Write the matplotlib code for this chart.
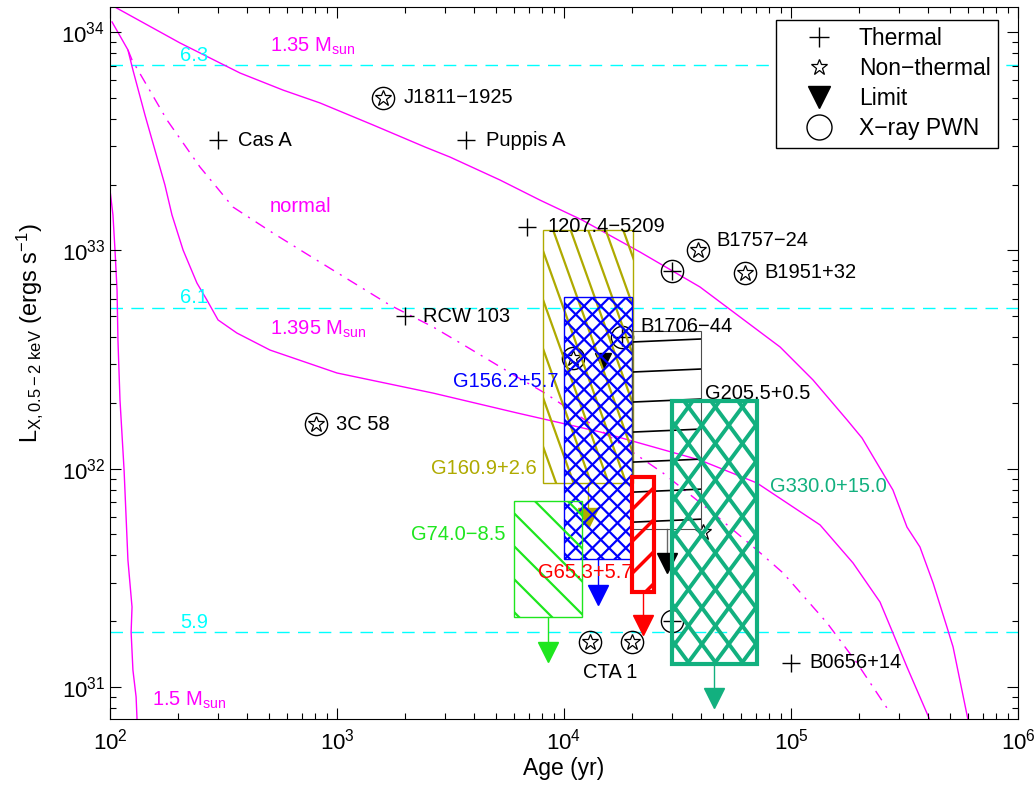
import numpy as np
import matplotlib
matplotlib.use('Agg')
import matplotlib.pyplot as plt
from matplotlib.patches import Rectangle
from matplotlib.lines import Line2D
from matplotlib.transforms import IdentityTransform

plt.rcParams['font.family'] = ['Liberation Sans', 'DejaVu Sans']
plt.rcParams['mathtext.fontset'] = 'custom'
plt.rcParams['mathtext.rm'] = 'Liberation Sans'
plt.rcParams['mathtext.it'] = 'Liberation Sans:italic'
plt.rcParams['mathtext.default'] = 'regular'

# cooling curves (log10 age, log10 L)
m135_logt = [2.022, 2.308, 2.573, 2.762, 2.925, 3.159, 3.388, 3.498, 3.718, 3.894, 4.079,
             4.335, 4.599, 4.952, 5.097, 5.247, 5.313, 5.449, 5.511, 5.568, 5.626, 5.687,
             5.714, 5.780]
m135_logL = [34.114, 33.950, 33.812, 33.734, 33.675, 33.574, 33.473, 33.427, 33.322, 33.230,
             33.139, 32.992, 32.832, 32.557, 32.406, 32.223, 32.140, 31.902, 31.732, 31.641,
             31.476, 31.274, 31.183, 30.848]
m1395_logt = [2.009, 2.079, 2.101, 2.154, 2.198, 2.242, 2.273, 2.322, 2.383, 2.427, 2.476,
              2.559, 2.705, 3.000, 3.423, 3.793, 4.159, 4.599, 4.850, 5.128, 5.273, 5.392,
              5.449, 5.511, 5.612]
m1395_logL = [34.046, 33.918, 33.826, 33.620, 33.459, 33.299, 33.162, 33.001, 32.850, 32.772,
              32.681, 32.621, 32.543, 32.438, 32.346, 32.255, 32.168, 32.039, 31.934, 31.742,
              31.568, 31.389, 31.247, 31.091, 30.848]
normal_logt = [2.079, 2.097, 2.251, 2.396, 2.542, 2.718, 2.859, 3.233, 3.423, 3.573, 3.793,
               3.916, 4.159, 4.436, 4.656, 4.850, 4.965, 5.159, 5.291, 5.423]
normal_logL = [33.918, 33.872, 33.597, 33.382, 33.198, 33.079, 32.988, 32.749, 32.649, 32.557,
               32.420, 32.346, 32.177, 31.980, 31.797, 31.627, 31.522, 31.293, 31.109, 30.903]
m15_logt = [2.000, 2.013, 2.022, 2.031, 2.035, 2.044, 2.062, 2.079, 2.097, 2.093, 2.101,
            2.115, 2.119]
m15_logL = [33.276, 33.162, 33.001, 32.818, 32.589, 32.314, 31.994, 31.581, 31.366, 31.251,
            31.077, 30.954, 30.853]

# log Teff levels (horizontal lines)
teff_labels = ['6.3', '6.1', '5.9']
teff_L = [7.07e33, 5.45e32, 1.78e31]

# thermal sources
thermal_names = ['Cas A', 'Puppis A', '1207.4\u22125209', 'RCW 103', 'B0656+14']
thermal_age = [300, 3700, 6900, 2000, 1.0e5]
thermal_L = [3.2e33, 3.2e33, 1.28e33, 5.0e32, 1.29e31]

# non-thermal with X-ray PWN
nt_pwn_names = ['J1811\u22121925', 'B1757\u221224', 'B1951+32', '3C 58', '', '', '']
nt_pwn_age = [1600, 39000, 63000, 810, 13000, 20000, 11000]
nt_pwn_L = [5.0e33, 1.0e33, 7.9e32, 1.6e32, 1.6e31, 1.6e31, 3.2e32]

# thermal with X-ray PWN
th_pwn_age = [30000, 18000, 30000]
th_pwn_L = [8.0e32, 4.0e32, 2.0e31]

# non-thermal only
nt_age = [41000]
nt_L = [5.1e31]

# single limit
lim1_age = [14900]
lim1_L = [3.1e32]

# SNR boxes
snr_names = ['G160.9+2.6', 'G156.2+5.7', 'G205.5+0.5', 'G65.3+5.7', 'G330.0+15.0', 'G74.0\u22128.5']
snr_age_lo = [8070, 10000, 20000, 20000, 30000, 6000]
snr_age_hi = [20100, 20000, 40000, 24800, 71000, 12000]
snr_L_lo = [8.6e31, 3.86e31, 5.3e31, 2.72e31, 1.27e31, 2.09e31]
snr_L_hi = [1.24e33, 6.1e32, 4.27e32, 9.2e31, 2.04e32, 7.1e31]
snr_lim_age = [12760, 14130, 28440, 22290, 45800, 8510]
snr_lim_L = [5.94e31, 2.64e31, 3.70e31, 1.92e31, 8.9e30, 1.45e31]

olive = '#AFAA00'
green = '#1EE61E'
teal = '#12B07F'
magenta = '#FF00FF'

# style per box: color, edge lw, hatch families [(angle, gap px)], hatch lw
box_style = [
    (olive, 1.0, [(-70.3, 16.5)], 1.6),
    ('#0000FF', 1.0, [(45, 11.8), (-45, 11.8)], 1.6),
    ('black', 0.8, [(2.5, 30)], 1.2),
    ('#FF0000', 3.0, [(45, 22.6)], 2.5),
    (teal, 3.0, [(53.5, 21.7), (-53.5, 21.7)], 2.8),
    (green, 1.0, [(-45, 23.3)], 1.6),
]
lim_line_color = [olive, '#0000FF', '0.4', '#FF0000', teal, green]


def add_hatch(ax, rect, angle, gap, color, lw, z):
    x0, y0 = rect.get_xy()
    (px0, py0), (px1, py1) = ax.transData.transform(
        [(x0, y0), (x0 + rect.get_width(), y0 + rect.get_height())])
    t = np.radians(angle)
    d = np.array([np.cos(t), np.sin(t)])
    n = np.array([-np.sin(t), np.cos(t)])
    corners = np.array([[px0, py0], [px1, py0], [px0, py1], [px1, py1]])
    proj = corners @ n
    span = np.hypot(px1 - px0, py1 - py0)
    c = np.array([(px0 + px1) / 2, (py0 + py1) / 2])
    for k in np.arange(np.floor(proj.min() / gap), np.ceil(proj.max() / gap) + 1):
        base = n * k * gap
        p = base + d * ((c - base) @ d)
        seg = np.array([p - d * span, p + d * span])
        ln = Line2D(seg[:, 0], seg[:, 1], transform=IdentityTransform(),
                    color=color, lw=lw, zorder=z, solid_capstyle='butt')
        ax.add_artist(ln)
        ln.set_clip_path(rect)


fig = plt.figure(figsize=(10.36, 7.9), dpi=100)
ax = fig.add_axes([110 / 1036, 1 - 719 / 790, 908 / 1036, 712 / 790])
ax.set_xscale('log')
ax.set_yscale('log')
ax.set_xlim(1e2, 1e6)
ax.set_ylim(10 ** 30.853, 10 ** 34.1145)

# cyan levels
for lab, L in zip(teff_labels, teff_L):
    ax.axhline(L, color='cyan', lw=1, dashes=(9, 6), zorder=1)

# cooling curves
ax.plot(10 ** np.array(m135_logt), 10 ** np.array(m135_logL), color=magenta, lw=1, zorder=1.5)
ax.plot(10 ** np.array(m1395_logt), 10 ** np.array(m1395_logL), color=magenta, lw=1, zorder=1.5)
ax.plot(10 ** np.array(normal_logt), 10 ** np.array(normal_logL), color=magenta, lw=1,
        dashes=(8, 5, 1.5, 5), zorder=1.5)
ax.plot(10 ** np.array(m15_logt), 10 ** np.array(m15_logL), color=magenta, lw=1, zorder=1.5)

# point markers
ax.plot(thermal_age, thermal_L, '+', color='black', ms=13, mew=1, ls='none', zorder=2)
ax.plot(nt_pwn_age, nt_pwn_L, 'o', mfc='none', mec='black', ms=16, mew=1, ls='none', zorder=2)
ax.plot(nt_pwn_age, nt_pwn_L, '*', mfc='none', mec='black', ms=12, mew=0.9, ls='none', zorder=2)
ax.plot(th_pwn_age, th_pwn_L, 'o', mfc='none', mec='black', ms=16, mew=1, ls='none', zorder=2)
ax.plot(th_pwn_age, th_pwn_L, '+', color='black', ms=13, mew=1, ls='none', zorder=2)
ax.plot(nt_age, nt_L, '*', mfc='none', mec='black', ms=12, mew=0.9, ls='none', zorder=2)
ax.plot(lim1_age, lim1_L, 'v', color='black', ms=12, ls='none', zorder=2)

# SNR boxes with limits
for i in range(len(snr_names)):
    col, elw, fams, hlw = box_style[i]
    z = 3 + i * 0.1
    ecol = '0.3' if col == 'black' else col
    rect = Rectangle((snr_age_lo[i], snr_L_lo[i]), snr_age_hi[i] - snr_age_lo[i],
                     snr_L_hi[i] - snr_L_lo[i], facecolor='none', edgecolor=ecol,
                     lw=elw, zorder=z + 0.05)
    ax.add_patch(rect)
    for ang, gap in fams:
        add_hatch(ax, rect, ang, gap, col, hlw, z)
    ax.plot([snr_lim_age[i], snr_lim_age[i]], [snr_L_lo[i], snr_lim_L[i]],
            color=lim_line_color[i], lw=1, zorder=z)
    ax.plot(snr_lim_age[i], snr_lim_L[i], 'v', color=col, ms=15, zorder=z + 0.06)

# point labels
fs = 14.5
point_offsets = {'Cas A': (20, 0), 'Puppis A': (20, 0), '1207.4\u22125209': (20, 0),
                 'RCW 103': (18, 0), 'B0656+14': (18, 0), 'J1811\u22121925': (20, 0),
                 'B1757\u221224': (18, 10), 'B1951+32': (19, 0), '3C 58': (20, 0)}
for names, ages, Ls in [(thermal_names, thermal_age, thermal_L),
                        (nt_pwn_names, nt_pwn_age, nt_pwn_L)]:
    for nm, a, L in zip(names, ages, Ls):
        if nm:
            ax.annotate(nm, (a, L), xytext=point_offsets[nm], textcoords='offset pixels',
                        va='center', ha='left', fontsize=fs, zorder=5)

ax.text(21600, 4.5e32, 'B1706\u221244', fontsize=fs, va='center', zorder=5)
ax.text(15950, 1.17e31, 'CTA 1', fontsize=fs, va='center', ha='center', zorder=5)
ax.text(41800, 2.2e32, 'G205.5+0.5', fontsize=fs, va='center', zorder=5)
ax.text(9500, 2.5e32, 'G156.2+5.7', fontsize=fs, va='center', ha='right', color='#0000FF', zorder=5)
ax.text(7600, 1.0e32, 'G160.9+2.6', fontsize=fs, va='center', ha='right', color=olive, zorder=5)
ax.text(5500, 5.0e31, 'G74.0\u22128.5', fontsize=fs, va='center', ha='right', color=green, zorder=5)
ax.text(7670, 3.33e31, 'G65.3+5.7', fontsize=fs, va='center', ha='left', color='#FF0000', zorder=5)
ax.text(80700, 8.25e31, 'G330.0+15.0', fontsize=fs, va='center', ha='left', color=teal, zorder=5)

# curve labels
ax.text(507, 8.1e33, r'1.35 M$_{sun}$', color=magenta, fontsize=fs, va='baseline')
ax.text(507, 1.5e33, 'normal', color=magenta, fontsize=fs, va='baseline')
ax.text(507, 4.1e32, r'1.395 M$_{sun}$', color=magenta, fontsize=fs, va='baseline')
ax.text(153, 8.2e30, r'1.5 M$_{sun}$', color=magenta, fontsize=fs, va='baseline')
for lab, y in zip(teff_labels, [7.36e33, 5.74e32, 1.86e31]):
    ax.text(203, y, lab, color='cyan', fontsize=fs, va='baseline')

# legend
handles = [Line2D([], [], marker='+', color='black', ms=15, mew=1, ls='none'),
           Line2D([], [], marker='*', mfc='none', mec='black', ms=12, mew=0.9, ls='none'),
           Line2D([], [], marker='v', color='black', ms=16, ls='none'),
           Line2D([], [], marker='o', mfc='none', mec='black', ms=18, mew=1, ls='none')]
leg = ax.legend(handles, ['Thermal', 'Non\u2212thermal', 'Limit', 'X\u2212ray PWN'],
                loc='upper right', bbox_to_anchor=(0.978, 0.982), fontsize=16.5,
                fancybox=False, framealpha=1, edgecolor='black', labelspacing=0.31,
                handletextpad=0.21, borderpad=0.32, handlelength=3.1, borderaxespad=0)
leg.get_frame().set_linewidth(1)
leg.set_zorder(10)

ax.tick_params(which='both', direction='in', top=True, right=True, labelsize=16)
ax.tick_params(which='major', length=8, width=0.8)
ax.tick_params(which='minor', length=4, width=0.8)
ax.tick_params(axis='x', which='both', pad=7)
ax.set_xlabel('Age (yr)', fontsize=16.5, labelpad=2)
ax.set_ylabel(r'L$_{X,0.5-2\ keV}$ (ergs s$^{-1}$)', fontsize=17)
ax.yaxis.set_label_coords(-0.072, 0.542)

fig.savefig('out.png', dpi=100)
